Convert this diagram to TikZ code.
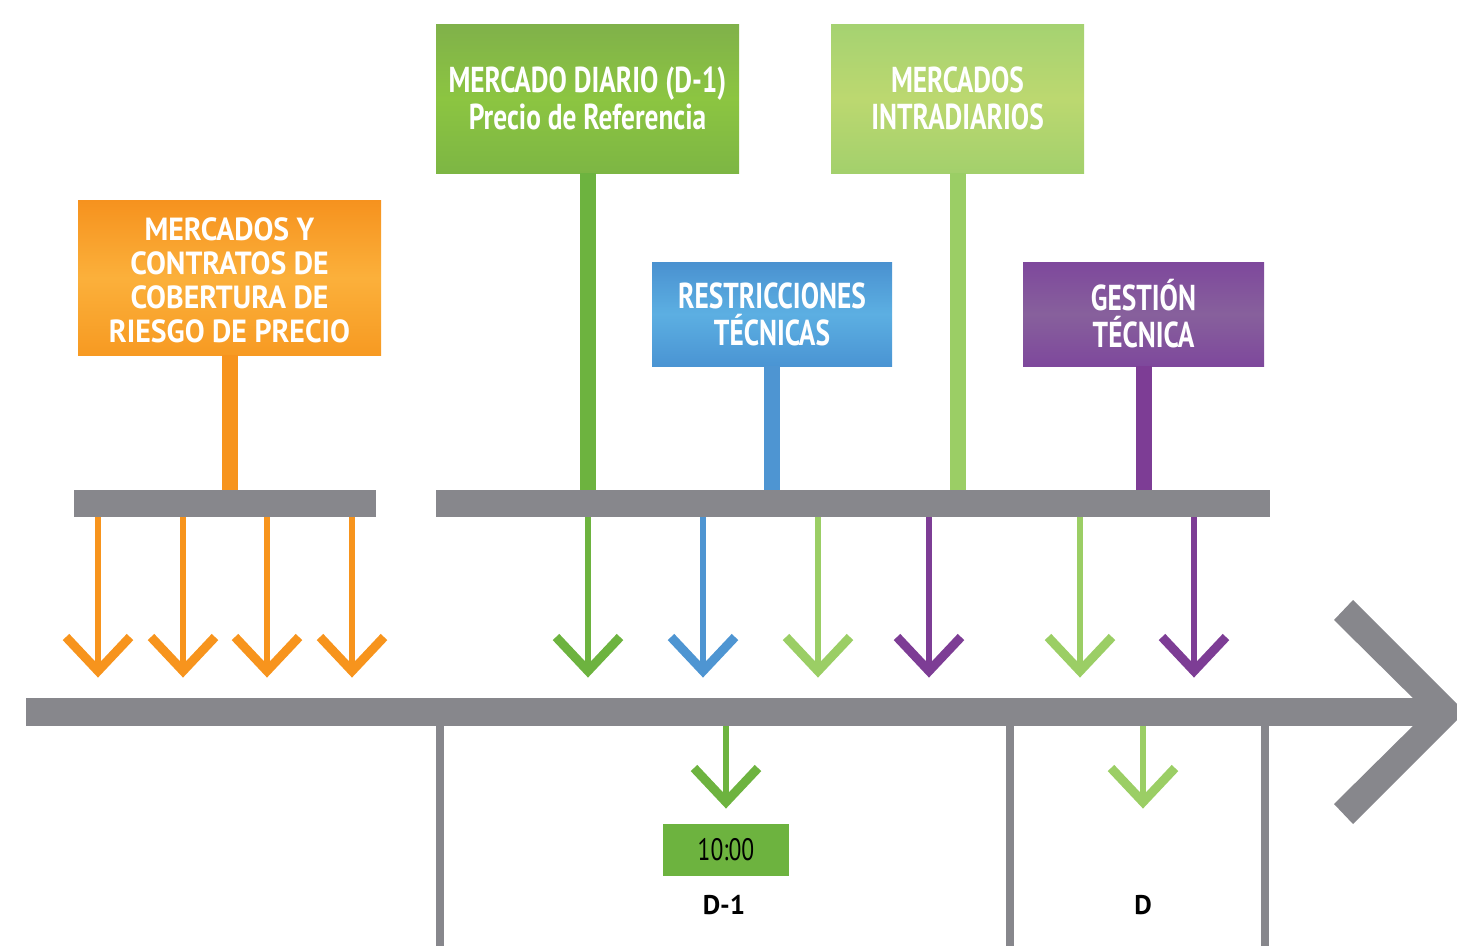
\documentclass[tikz,border=0pt]{standalone}
\usepackage{fontspec}
\setmainfont{PT Sans}
\newfontfamily\cnd[FakeStretch=0.76]{PT Sans Bold}
\newfontfamily\cndo[FakeStretch=0.93]{PT Sans Bold}
\newfontfamily\cndl[FakeStretch=0.76]{PT Sans}
\usetikzlibrary{calc}
\definecolor{tgray}{HTML}{87878C}
\definecolor{corange}{HTML}{F7941D}
\definecolor{cgreen}{HTML}{6DB33F}
\definecolor{cblue}{HTML}{4E95D2}
\definecolor{clgreen}{HTML}{9BCE65}
\definecolor{cpurple}{HTML}{7D3D95}
\definecolor{oTop}{HTML}{F6921E}\definecolor{oMid}{HTML}{FBB03B}\definecolor{oBot}{HTML}{F79A22}
\definecolor{gTop}{HTML}{80B14A}\definecolor{gMid}{HTML}{8CC541}\definecolor{gBot}{HTML}{7DB644}
\definecolor{lTop}{HTML}{A5D271}\definecolor{lMid}{HTML}{BCD870}\definecolor{lBot}{HTML}{A3D06C}
\definecolor{bTop}{HTML}{4A91D0}\definecolor{bMid}{HTML}{5CAFE2}\definecolor{bBot}{HTML}{4A94D3}
\definecolor{pTop}{HTML}{7E489C}\definecolor{pMid}{HTML}{87609C}\definecolor{pBot}{HTML}{7E489C}
\begin{document}
\begin{tikzpicture}[x=1pt,y=-1pt,
  box/.style={rectangle, inner sep=0pt, align=center, text=white,
    font=\cnd\fontsize{36}{37}\selectfont},
  bar/.style={rectangle, fill=tgray, inner sep=0pt, minimum height=27},
  conn/.style={line width=16},
  stem/.style={line width=6},
  chev/.style={line width=9, line join=miter},
  vline/.style={draw=tgray, line width=8}]
\useasboundingbox (0,0) rectangle (1457,946);

% boxes
\node[box, minimum width=303, minimum height=155,
  top color=oTop, bottom color=oBot, middle color=oMid,
  font=\cndo\fontsize{32}{34}\selectfont]
  (bo) at (229.5,277.5) {\raisebox{-3pt}[\height][\depth]{\parbox{300pt}{\centering MERCADOS Y\\CONTRATOS DE\\COBERTURA DE\\RIESGO DE PRECIO}}};
\node[box, minimum width=303, minimum height=149,
  top color=gTop, bottom color=gBot, middle color=gMid]
  (bg) at (587.5,98.5) {MERCADO DIARIO (D-1)\\Precio de Referencia};
\node[box, minimum width=253, minimum height=149,
  top color=lTop, bottom color=lBot, middle color=lMid]
  (bl) at (957.5,98.5) {MERCADOS\\INTRADIARIOS};
\node[box, minimum width=240, minimum height=104,
  top color=bTop, bottom color=bBot, middle color=bMid]
  (bb) at (772,314) {RESTRICCIONES\\TÉCNICAS};
\node[box, minimum width=241, minimum height=104,
  top color=pTop, bottom color=pBot, middle color=pMid]
  (bp) at (1143.5,314) {GESTIÓN\\TÉCNICA};

% bars
\node[bar, minimum width=302] (bar1) at (225,503.5) {};
\node[bar, minimum width=834] (bar2) at (853,503.5) {};

% connectors box -> bar
\draw[conn, corange] (bo.south) -- (bo.south |- bar1.north);
\draw[conn, cgreen] (bg.south) -- (bg.south |- bar2.north);
\draw[conn, clgreen] (bl.south) -- (bl.south |- bar2.north);
\draw[conn, cblue] (bb.south) -- (bb.south |- bar2.north);
\draw[conn, cpurple] (bp.south) -- (bp.south |- bar2.north);

% arrows under bar 1
\foreach \x [count=\i] in {98,183,267,352} {
  \coordinate (o\i) at (\x,671);
  \draw[stem, corange] (bar1.south -| o\i) -- (o\i);
  \draw[chev, corange] ($(o\i)+(-32,-34)$) -- (o\i) -- ($(o\i)+(32,-34)$);
}
% arrows under bar 2
\foreach \x/\c [count=\i] in {588/cgreen,703/cblue,818/clgreen,929/cpurple,1080/clgreen,1194/cpurple} {
  \coordinate (m\i) at (\x,671);
  \draw[stem, \c] (bar2.south -| m\i) -- (m\i);
  \draw[chev, \c] ($(m\i)+(-32,-34)$) -- (m\i) -- ($(m\i)+(32,-34)$);
}

% timeline
\node[rectangle, fill=tgray, inner sep=0pt, minimum width=1404, minimum height=28] (tl) at (728,712) {};
\fill[tgray] (1353,600) -- (1465,712) -- (1353,824) -- (1334,804) -- (1427,712) -- (1334,620) -- cycle;

% vertical separators
\foreach \x [count=\i] in {440,1010,1265} {
  \coordinate (v\i) at (\x,946);
  \draw[vline] (tl.south -| v\i) -- (v\i);
}

% bottom arrows
\coordinate (d1) at (726,802);
\draw[stem, cgreen] (tl.south -| d1) -- (d1);
\draw[chev, cgreen] ($(d1)+(-32,-34)$) -- (d1) -- ($(d1)+(32,-34)$);
\coordinate (d2) at (1143,802);
\draw[stem, clgreen] (tl.south -| d2) -- (d2);
\draw[chev, clgreen] ($(d2)+(-32,-34)$) -- (d2) -- ($(d2)+(32,-34)$);

% time box and labels
\node[rectangle, fill=cgreen, inner sep=0pt, minimum width=126, minimum height=52,
  font=\cndl\fontsize{31}{31}\selectfont] (hr) at (726,850) {10:00};
\node[font=\bfseries\fontsize{27}{27}\selectfont, inner sep=0pt] (lD1) at (724,905) {D-1};
\node[font=\bfseries\fontsize{27}{27}\selectfont, inner sep=0pt] (lD) at (1143,905) {D};
\end{tikzpicture}
\end{document}
